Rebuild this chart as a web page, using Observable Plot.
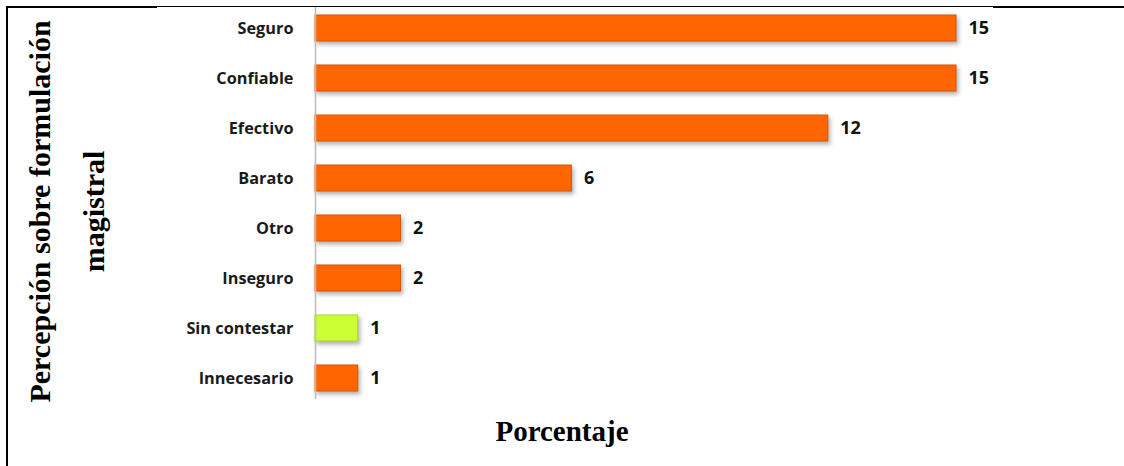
<!DOCTYPE html>
<html><head><meta charset="utf-8">
<script src="https://cdn.jsdelivr.net/npm/d3@7"></script>
<script src="https://cdn.jsdelivr.net/npm/@observablehq/plot@0.6"></script>
<style>
body{margin:0;background:#fff;}
#wrap{position:relative;width:1124px;height:466px;overflow:hidden;}
#wrap svg{display:block;}
.ln{position:absolute;background:#000;}
g[aria-label="bar"] rect{filter:drop-shadow(2px 3px 2px rgba(0,0,0,0.30));}
</style></head><body><div id="wrap">
<div class="ln" style="left:6px;top:6px;width:2px;height:460px"></div>
<div class="ln" style="left:6px;top:6px;width:151px;height:2px"></div>
<div class="ln" style="left:157px;top:6px;width:836px;height:1px"></div>
<div class="ln" style="left:993px;top:6px;width:131px;height:2px"></div>
</div>
<script>
const categories = ["Seguro","Confiable","Efectivo","Barato","Otro","Inseguro","Sin contestar","Innecesario"];
const values = [15,15,12,6,2,2,1,1];
const highlighted = ["Sin contestar"];
const xTitle = "Porcentaje";
const yTitle = "Percepción sobre formulación\nmagistral";
const data = categories.map((c,i)=>({category:c, value:values[i]}));
const isHi = d => highlighted.includes(d.category);
const plot = Plot.plot({
  width:1124, height:466,
  marginLeft:315, marginRight:168, marginTop:7, marginBottom:67,
  x:{domain:[0,15], axis:null},
  y:{domain:categories, paddingInner:0.49, paddingOuter:0.11},
  style:{background:"transparent", fontFamily:"'Open Sans', sans-serif", overflow:"visible"},
  marks:[
    Plot.axisY({tickSize:0, tickPadding:22, label:null, fontSize:16.3, fontWeight:700, fill:"#1a1a1a"}),
    Plot.barX(data,{x:"value", y:"category",
      fill:d=>isHi(d)?"#ccff33":"#ff6600",
      stroke:d=>isHi(d)?"#a9d62a":"#d95200", strokeWidth:1}),
    Plot.ruleX([0],{stroke:"#bdbdbd", strokeWidth:1.5}),
    Plot.text(data,{x:"value", y:"category", text:d=>String(d.value), dx:12, textAnchor:"start",
      fontSize:18, fontWeight:700, fill:"#111"}),
    Plot.text([xTitle],{frameAnchor:"bottom", dx:-74, dy:41, text:d=>d, textAnchor:"middle",
      fontFamily:"'Liberation Serif', 'Times New Roman', serif", fontSize:29, fontWeight:700, fill:"#000"}),
    Plot.text([yTitle],{frameAnchor:"left", rotate:-90, dx:-256, dy:8, text:d=>d, lineHeight:1.8,
      textAnchor:"middle", lineAnchor:"middle",
      fontFamily:"'Liberation Serif', 'Times New Roman', serif", fontSize:30, fontWeight:700, fill:"#000"})
  ]
});
document.getElementById("wrap").prepend(plot);
</script>
</body></html>
